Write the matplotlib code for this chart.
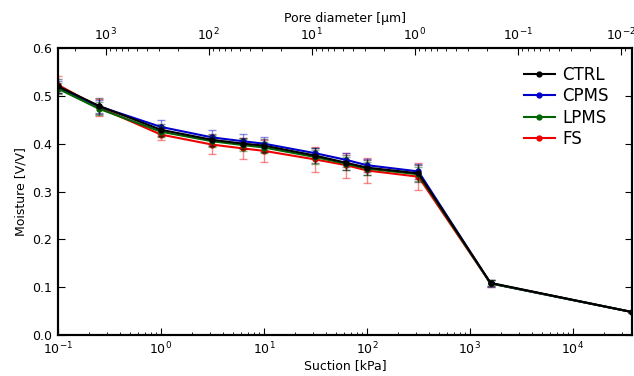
import numpy as np
import matplotlib.pyplot as plt

# suction steps [kPa]
suction = [0.1, 0.25, 1.0, 3.16, 6.31, 10.0, 31.6, 63.1, 100.0, 316.0, 1585.0, 37500.0]

ctrl = [0.520, 0.479, 0.429, 0.408, 0.400, 0.396, 0.375, 0.360, 0.350, 0.338, 0.109, 0.048]
cpms = [0.518, 0.478, 0.435, 0.413, 0.405, 0.400, 0.380, 0.366, 0.355, 0.342, 0.108, 0.048]
lpms = [0.515, 0.473, 0.425, 0.405, 0.397, 0.392, 0.372, 0.358, 0.348, 0.336, 0.108, 0.048]
fs = [0.523, 0.476, 0.419, 0.398, 0.390, 0.385, 0.367, 0.355, 0.344, 0.331, 0.108, 0.048]

ctrl_err = [0.015, 0.016, 0.012, 0.012, 0.012, 0.013, 0.015, 0.016, 0.015, 0.018, 0.006, 0.002]
cpms_err = [0.012, 0.014, 0.015, 0.015, 0.015, 0.013, 0.012, 0.015, 0.014, 0.015, 0.007, 0.002]
lpms_err = [0.012, 0.014, 0.012, 0.012, 0.012, 0.012, 0.014, 0.014, 0.014, 0.015, 0.006, 0.002]
fs_err = [0.018, 0.018, 0.012, 0.020, 0.022, 0.023, 0.027, 0.026, 0.027, 0.028, 0.007, 0.002]

series = [
    ("CTRL", ctrl, ctrl_err, "black", 5),
    ("CPMS", cpms, cpms_err, "#0000cc", 3),
    ("LPMS", lpms, lpms_err, "#006400", 4),
    ("FS", fs, fs_err, "#ee0000", 2),
]

fig = plt.figure(figsize=(6.34, 3.76), dpi=100)
ax = fig.add_axes([0.0915, 0.109, 0.9054, 0.7633])

for name, vals, err, col, z in series:
    ax.errorbar(suction, vals, yerr=err, fmt="none", ecolor=col, alpha=0.45,
                elinewidth=1, capsize=3, capthick=1, zorder=z - 1)
    ax.plot(suction, vals, "-o", color=col, lw=1.5, ms=3.5, label=name, zorder=z)

ax.set_xscale("log")
ax.set_xlim(suction[0], suction[-1])
ax.set_ylim(0.0, 0.6)
ax.set_yticks([0.0, 0.1, 0.2, 0.3, 0.4, 0.5, 0.6])
ax.set_xlabel("Suction [kPa]", fontsize=9, labelpad=1)
ax.set_ylabel("Moisture [V/V]", fontsize=9, labelpad=3)
ax.tick_params(which="both", direction="in", top=False, right=True, labelsize=9)
ax.tick_params(which="major", length=5)
ax.tick_params(which="minor", length=2.5)
ax.tick_params(axis="y", pad=4.5)
ax.tick_params(axis="x", pad=4)

# pore diameter on the top axis, d [um] = 290 / suction [kPa]
ax2 = ax.twiny()
ax2.set_xscale("log")
ax2.set_xlim(290.0 / suction[0], 290.0 / suction[-1])
ax2.set_xlabel("Pore diameter [\u00b5m]", fontsize=9, labelpad=3)
ax2.tick_params(which="both", direction="in", labelsize=9)
ax2.tick_params(which="major", length=5)
ax2.tick_params(which="minor", length=2.5)

for a in (ax, ax2):
    for s in a.spines.values():
        s.set_linewidth(1.5)

leg = ax.legend(loc="upper right", frameon=False, fontsize=12, handlelength=1.9,
                handletextpad=0.4, labelspacing=0.2, bbox_to_anchor=(0.985, 0.99))

fig.savefig("out.png", dpi=100)
